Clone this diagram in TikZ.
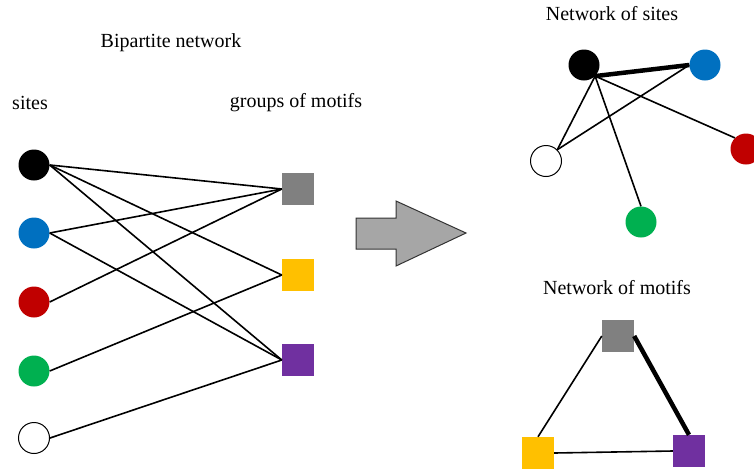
\documentclass[tikz,border=0pt]{standalone}
\usepackage{fontspec}
\setmainfont{Liberation Serif}

\definecolor{siteblue}{HTML}{0070C0}
\definecolor{sitered}{HTML}{C00000}
\definecolor{sitegreen}{HTML}{00B050}
\definecolor{motifgray}{HTML}{808080}
\definecolor{motifyellow}{HTML}{FFC000}
\definecolor{motifpurple}{HTML}{7030A0}
\definecolor{arrowgray}{HTML}{A6A6A6}

\tikzset{
	site/.style={circle,minimum size=31pt,inner sep=0pt},
	motif/.style={rectangle,minimum size=32pt,inner sep=0pt},
	link/.style={draw=black,line width=1.6pt},
	strong/.style={draw=black,line width=4.5pt},
	label/.style={font=\fontsize{20}{24}\selectfont,inner sep=0pt}
}

\begin{document}
\begin{tikzpicture}[x=1pt,y=-1pt]
			\useasboundingbox (0,0) rectangle (754,472);

			% bipartite network
			\node[label] (bipartite) at (171,43) {Bipartite network};
			\node[label] (sitestitle) at (30,103) {sites};
			\node[label] (motifstitle) at (296,103) {groups of motifs};

			\node[site,fill=black] (s1) at (34,165) {};
			\node[site,fill=siteblue] (s2) at (34,233) {};
			\node[site,fill=sitered] (s3) at (34,302) {};
			\node[site,fill=sitegreen] (s4) at (34,371) {};
			\node[site,draw=black,line width=1pt,fill=white] (s5) at (34,438) {};

			\node[motif,fill=motifgray] (m1) at (298,189) {};
			\node[motif,fill=motifyellow] (m2) at (298,275) {};
			\node[motif,fill=motifpurple] (m3) at (298,360) {};

			\foreach \s/\m in {s1/m1,s1/m2,s1/m3,s2/m1,s2/m3,s3/m1,s4/m2,s5/m3}
				\draw[link] (\s.east) -- (\m.west);

			% projection arrow
			\filldraw[fill=arrowgray,draw=black!80,line width=1pt] (356,218) -- (396,218) -- (396,201) -- (466,233) -- (396,266) -- (396,249) -- (356,249) -- cycle;

			% network of sites
			\node[label] (sitesnet) at (612,14) {Network of sites};
			\node[site,fill=black] (a1) at (584,65) {};
			\node[site,fill=siteblue] (a2) at (705,65) {};
			\node[site,fill=sitered] (a3) at (746,149) {};
			\node[site,fill=sitegreen] (a4) at (641,222) {};
			\node[site,draw=black,line width=1pt,fill=white] (a5) at (546,161) {};

			\draw[strong] (a1.south east) -- (a2.west);
			\draw[link] (a1.south east) -- (a5.north east);
			\draw[link] (a1.south east) -- (a4.north);
			\draw[link] (a1.south east) -- (a3.north west);
			\draw[link] (a2.west) -- (a5.north east);

			% network of motifs
			\node[label] (motifsnet) at (617,288) {Network of motifs};
			\node[motif,fill=motifgray] (b1) at (618,336) {};
			\node[motif,fill=motifyellow] (b2) at (538,453) {};
			\node[motif,fill=motifpurple] (b3) at (689,451) {};

			\draw[link] (b1.west) -- (b2.north);
			\draw[strong] (b1.east) -- (b3.north);
			\draw[link] (b2.east) -- (b3.west);
		\end{tikzpicture}
\end{document}
